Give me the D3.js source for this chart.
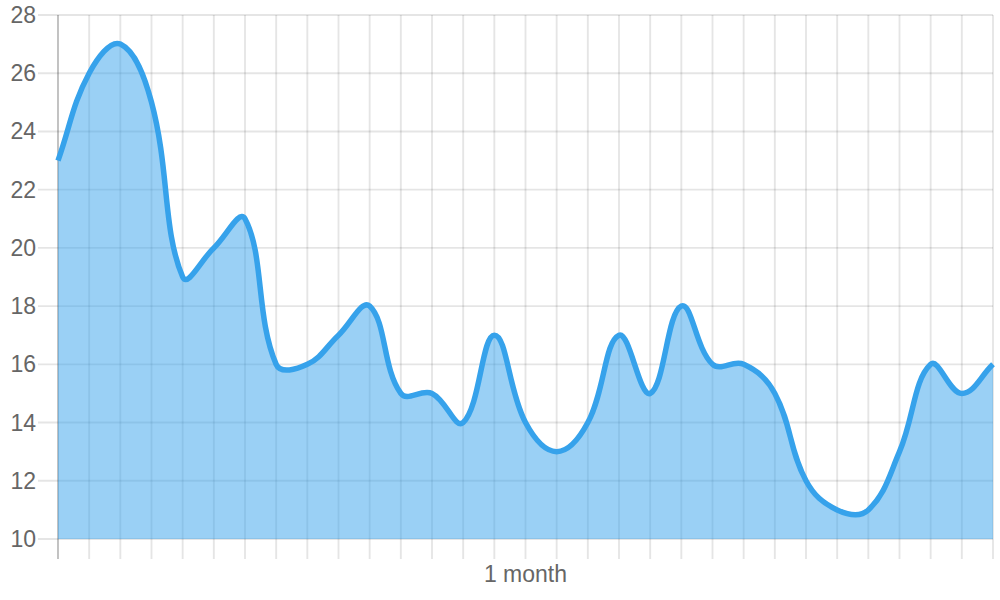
<!DOCTYPE html>
<html>
<head>
<meta charset="utf-8">
<script src="https://cdn.jsdelivr.net/npm/d3@7"></script>
<style>
  html, body { margin: 0; padding: 0; background: #fff; }
  svg { display: block; }
  text { font-family: "Liberation Sans", Arial, Helvetica, sans-serif; fill: #666; }
</style>
</head>
<body>
<svg id="chart" width="1000" height="600"></svg>
<script>
// ---- data ----
const labels = ["", "", "", "", "", "", "", "", "", "", "", "", "", "", "", "1 month",
                "", "", "", "", "", "", "", "", "", "", "", "", "", "", ""];
const values = [23, 26, 27, 25, 19, 20, 21, 16, 16, 17, 18, 15, 15, 14, 17, 14,
                13, 14, 17, 15, 18, 16, 16, 15, 12, 11, 11, 13, 16, 15, 16];
const yTicks = [10, 12, 14, 16, 18, 20, 22, 24, 26, 28];

// ---- layout ----
const area = { left: 58, right: 993, top: 15, bottom: 539 };
const tickLen = 20;
const svg = d3.select("#chart");

const x = d3.scalePoint().domain(d3.range(values.length)).range([area.left, area.right]);
const y = d3.scaleLinear().domain([10, 28]).range([area.bottom, area.top]);

// ---- grid ----
const grid = svg.append("g");
grid.selectAll("line.h").data(yTicks).enter().append("line")
  .attr("x1", area.left - tickLen).attr("x2", area.right)
  .attr("y1", d => y(d)).attr("y2", d => y(d))
  .attr("stroke", "rgba(0,0,0,0.1)").attr("stroke-width", 1.9);
grid.selectAll("line.v").data(d3.range(values.length)).enter().append("line")
  .attr("x1", d => x(d)).attr("x2", d => x(d))
  .attr("y1", area.top).attr("y2", area.bottom + tickLen)
  .attr("stroke", d => d === 0 ? "rgba(0,0,0,0.25)" : "rgba(0,0,0,0.1)")
  .attr("stroke-width", 1.9);

// ---- axis labels ----
svg.append("g").selectAll("text").data(yTicks).enter().append("text")
  .attr("x", area.left - tickLen - 2).attr("y", d => y(d))
  .attr("text-anchor", "end").attr("dominant-baseline", "central")
  .attr("font-size", 23).text(d => d);
svg.append("g").selectAll("text").data(labels.map((l, i) => ({ l, i })).filter(d => d.l))
  .enter().append("text")
  .attr("x", d => x(d.i)).attr("y", 582)
  .attr("text-anchor", "middle").attr("font-size", 23).text(d => d.l);

// ---- Chart.js-style spline (tension 0.4) ----
const tension = 0.4;
const pts = values.map((v, i) => ({ x: x(i), y: y(v) }));
pts.forEach((p, i) => {
  const prev = pts[i - 1] || p, next = pts[i + 1] || p;
  const d01 = Math.hypot(p.x - prev.x, p.y - prev.y);
  const d12 = Math.hypot(next.x - p.x, next.y - p.y);
  let s01 = d01 / (d01 + d12), s12 = d12 / (d01 + d12);
  if (isNaN(s01)) s01 = 0; if (isNaN(s12)) s12 = 0;
  const fa = tension * s01, fb = tension * s12;
  const cap = (v, lo, hi) => Math.max(lo, Math.min(hi, v));
  p.cpx1 = cap(p.x - fa * (next.x - prev.x), area.left, area.right);
  p.cpy1 = cap(p.y - fa * (next.y - prev.y), area.top, area.bottom);
  p.cpx2 = cap(p.x + fb * (next.x - prev.x), area.left, area.right);
  p.cpy2 = cap(p.y + fb * (next.y - prev.y), area.top, area.bottom);
});
function curvePath(ctx) {
  ctx.moveTo(pts[0].x, pts[0].y);
  for (let i = 1; i < pts.length; i++) {
    const a = pts[i - 1], b = pts[i];
    ctx.bezierCurveTo(a.cpx2, a.cpy2, b.cpx1, b.cpy1, b.x, b.y);
  }
  return ctx;
}
const linePath = curvePath(d3.path()).toString();
const areaCtx = curvePath(d3.path());
areaCtx.lineTo(pts[pts.length - 1].x, y(10));
areaCtx.lineTo(pts[0].x, y(10));
areaCtx.closePath();

svg.append("path").attr("d", areaCtx.toString())
  .attr("fill", "rgba(54,162,235,0.5)");
svg.append("path").attr("d", linePath)
  .attr("fill", "none").attr("stroke", "rgb(54,162,235)")
  .attr("stroke-width", 5.5).attr("stroke-linejoin", "round");
</script>
</body>
</html>
